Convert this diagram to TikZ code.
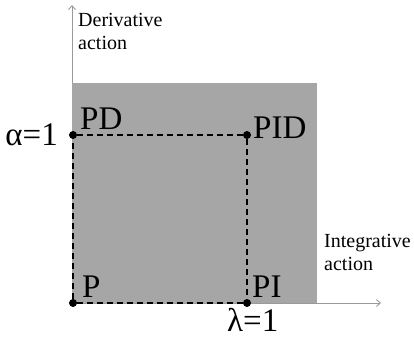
\documentclass[tikz,border=0pt]{standalone}
\usepackage{fontspec}
\setmainfont{Liberation Serif}
\usepackage{tikz}
\usetikzlibrary{arrows.meta}
\usetikzlibrary{positioning}

\definecolor{zone}{HTML}{A6A6A6}
\definecolor{axisgray}{HTML}{9A9A9A}

\begin{document}
\begin{tikzpicture}[x=1pt,y=-1pt]
\tikzset{dot/.style={circle,fill=black,inner sep=0pt,minimum size=8pt},
  big/.style={font=\fontsize{33}{33}\selectfont,inner sep=0pt},
  small/.style={font=\fontsize{20}{23}\selectfont,inner sep=0pt,align=left},
  axis/.style={draw=axisgray,line width=0.9pt,arrows={-Straight Barb[length=4pt,width=7pt]}},
  link/.style={draw=black,line width=1.4pt,dash pattern=on 6pt off 4pt}}
\useasboundingbox (0,0) rectangle (414,338);
% axes
\coordinate (o) at (72,303);
\coordinate (ytip) at (72,5);
\coordinate (xtip) at (381,303);
\draw[axis] (o) -- (ytip);
\draw[axis] (o) -- (xtip);
% region
\fill[zone] (72,83) rectangle (317,303);
% corners
\node[dot] (P) at (73,303) {};
\node[dot] (PD) at (73,135) {};
\node[dot] (PID) at (247,135) {};
\node[dot] (PI) at (247,303) {};
\draw[link] (P) -- (PD);
\draw[link] (PD) -- (PID);
\draw[link] (PID) -- (PI);
\draw[link] (P) -- (PI);
% labels
\node[big,anchor=base west] (lP) at (82,297) {P};
\node[big,anchor=base west] (lPD) at (80,129) {PD};
\node[big,anchor=base west] (lPID) at (253,138) {PID};
\node[big,anchor=base west] (lPI) at (252,297) {PI};
\node[big,anchor=base east] (alpha) at (58,145) {α=1};
\node[big,anchor=base west] (lambda) at (227,331) {λ=1};
\node[small,anchor=base west] (yname) at (78,49) {Derivative\\action};
\node[small,anchor=base west] (xname) at (324,270) {Integrative\\action};
\end{tikzpicture}
\end{document}
